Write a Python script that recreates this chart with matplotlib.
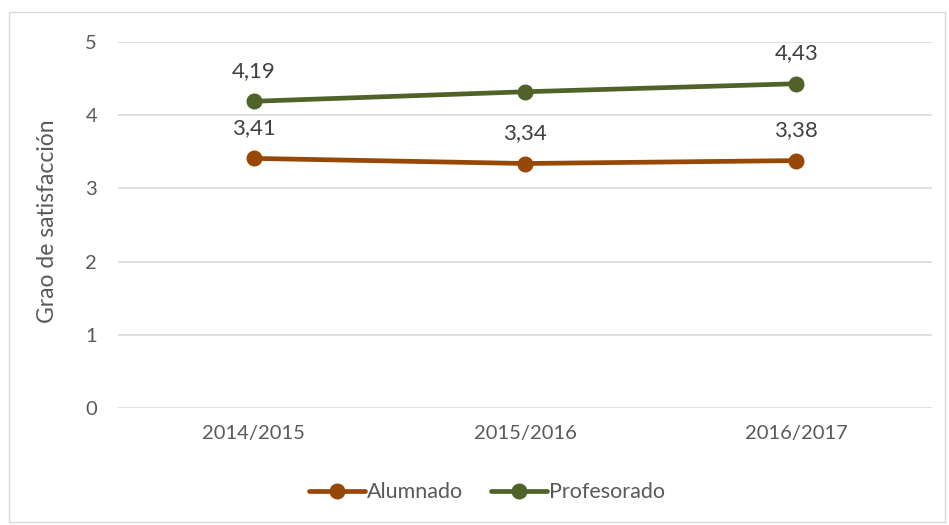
import matplotlib
matplotlib.use("Agg")
import matplotlib.pyplot as plt
from matplotlib.patches import Rectangle

# Datos
cursos = ["2014/2015", "2015/2016", "2016/2017"]
alumnado = [3.41, 3.34, 3.38]
profesorado = [4.19, 4.32, 4.43]
etiquetas_alumnado = ["3,41", "3,34", "3,38"]
etiquetas_profesorado = ["4,19", None, "4,43"]

plt.rcParams["font.family"] = ["Lato", "DejaVu Sans"]
gris = "#595959"
c_alum = "#974706"
c_prof = "#4F6228"

fig = plt.figure(figsize=(9.49, 5.25), dpi=100)
ax = fig.add_axes([0.1243, 0.2229, 0.8577, 0.6971])

x = range(len(cursos))
ax.plot(x, alumnado, color=c_alum, lw=3.4, marker="o", ms=10.5, label="Alumnado",
        solid_capstyle="round", zorder=3)
ax.plot(x, profesorado, color=c_prof, lw=3.4, marker="o", ms=10.5, label="Profesorado",
        solid_capstyle="round", zorder=3)

for xi, yi, t in zip(x, alumnado, etiquetas_alumnado):
    if t:
        ax.annotate(t, (xi, yi), xytext=(0, 22), textcoords="offset points",
                    ha="center", va="center", fontsize=16, color="#404040")
for xi, yi, t in zip(x, profesorado, etiquetas_profesorado):
    if t:
        ax.annotate(t, (xi, yi), xytext=(0, 22), textcoords="offset points",
                    ha="center", va="center", fontsize=16, color="#404040")

ax.set_xlim(-0.5, 2.5)
ax.set_ylim(0, 5)
ax.set_yticks(range(6))
ax.set_xticks(list(x))
ax.set_xticklabels(cursos)
ax.grid(axis="y", color="#D9D9D9", lw=1.2)
ax.set_axisbelow(True)
for s in ax.spines.values():
    s.set_visible(False)
ax.tick_params(length=0, labelsize=14.5, colors=gris)
ax.tick_params(axis="y", pad=15)
ax.tick_params(axis="x", pad=12)
ax.set_ylabel("Grao de satisfacción", fontsize=16.5, color=gris, va="center")
ax.yaxis.set_label_coords(-0.086, 0.51)

leg = fig.legend(loc="center", bbox_to_anchor=(0.513, 0.062), ncol=2, frameon=False,
                 fontsize=15.5, handlelength=2.6, columnspacing=1.3, handletextpad=0.1)
for t in leg.get_texts():
    t.set_color(gris)

fig.patches.append(Rectangle((0.009, 0.006), 0.987, 0.971, transform=fig.transFigure,
                             fill=False, edgecolor="#D9D9D9", lw=1))

fig.savefig("out.png", dpi=100)
